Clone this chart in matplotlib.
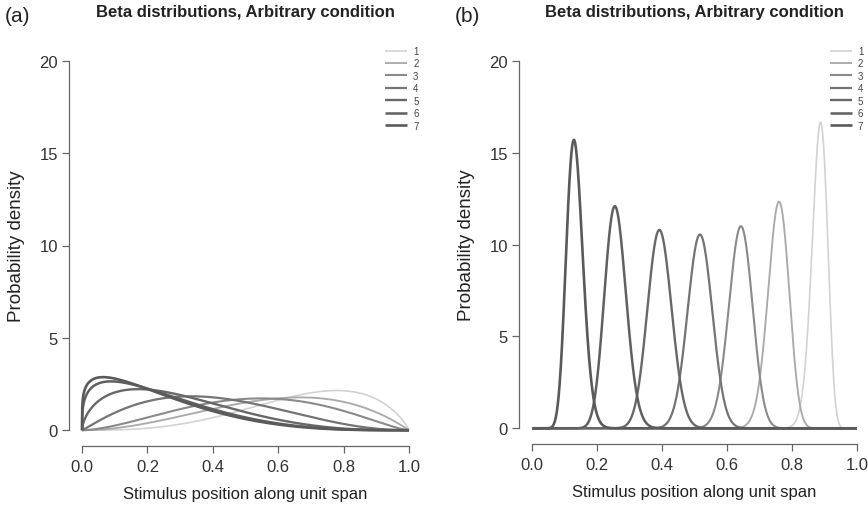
import math
import numpy as np
import matplotlib
matplotlib.use("Agg")
import matplotlib.pyplot as plt

plt.rcParams['font.family'] = ['Liberation Sans', 'DejaVu Sans']

# ---- data: beta parameters ----
LABELS = ['1', '2', '3', '4', '5', '6', '7']
ALPHA_A = [4.0, 3.0, 2.7, 2.1, 1.6, 1.3, 1.22]
BETA_A = [1.85, 2.0, 2.4, 3.2, 3.9, 4.1, 4.2]
ALPHA_B = [154.6, 132.5, 112.2, 90.4, 68.8, 45.1, 23.3]
BETA_B = [20.4, 42.5, 62.8, 84.6, 106.2, 129.9, 151.7]

COLORS = ['#d2d2d2', '#aaaaaa', '#8a8a8a', '#747474', '#686868', '#606060', '#5a5a5a']
WIDTHS = [1.2, 1.35, 1.5, 1.6, 1.7, 1.8, 1.9]

TITLE = 'Beta distributions, Arbitrary condition'
XLABEL = 'Stimulus position along unit span'
YLABEL = 'Probability density'

x = np.linspace(0, 1, 2001)


def beta_pdf(xx, a, b):
    lb = math.lgamma(a) + math.lgamma(b) - math.lgamma(a + b)
    with np.errstate(divide='ignore', invalid='ignore'):
        y = np.exp((a - 1) * np.log(xx) + (b - 1) * np.log1p(-xx) - lb)
    return np.nan_to_num(y, nan=0.0, posinf=0.0)


W, H = 868, 510
fig = plt.figure(figsize=(W / 100, H / 100), dpi=100)


def make_panel(rect_px, alphas, betas, tag, leg_x):
    l, t, r, b = rect_px
    ax = fig.add_axes([l / W, 1 - b / H, (r - l) / W, (b - t) / H])
    for i in range(len(alphas)):
        ax.plot(x, beta_pdf(x, alphas[i], betas[i]), color=COLORS[i],
                lw=WIDTHS[i], label=LABELS[i], solid_capstyle='butt')
    ax.set_xlim(-0.04, 1.04)
    ax.set_ylim(-0.8, 20.8)
    ax.set_xticks([0, 0.2, 0.4, 0.6, 0.8, 1.0])
    ax.set_xticklabels(['0.0', '0.2', '0.4', '0.6', '0.8', '1.0'])
    ax.set_yticks([0, 5, 10, 15, 20])
    for s in ['top', 'right']:
        ax.spines[s].set_visible(False)
    ax.spines['left'].set_bounds(0, 20)
    ax.spines['bottom'].set_bounds(0, 1)
    ax.spines['bottom'].set_position(('outward', 1))
    for s in ['left', 'bottom']:
        ax.spines[s].set_color('#666666')
        ax.spines[s].set_linewidth(0.9)
    ax.tick_params(axis='both', length=5, width=0.9, color='#666666',
                   labelsize=12, labelcolor='#333333', pad=3)
    ax.tick_params(axis='x', pad=4)
    ax.set_xlabel(XLABEL, fontsize=12, color='#222222', labelpad=9)
    ax.set_ylabel(YLABEL, fontsize=13.5, color='#222222', labelpad=10)
    fig.text(((l + r) / 2) / W, 1 - 13 / H, TITLE, fontsize=12, fontweight='bold',
             color='#222222', ha='center', va='center')
    leg = ax.legend(loc='upper left', bbox_to_anchor=(leg_x, 1.0), frameon=False,
                    fontsize=7, handlelength=2.3, handletextpad=0.6,
                    labelspacing=0.25, borderaxespad=0, borderpad=0)
    for txt in leg.get_texts():
        txt.set_color('#444444')
    fig.text((l - 64) / W, 1 - 17 / H, tag, fontsize=15, color='#222222',
             ha='left', va='center')
    return ax


make_panel((69, 47, 422, 446), ALPHA_A, BETA_A, '(a)', 0.895)
make_panel((519, 47, 870, 444), ALPHA_B, BETA_B, '(b)', 0.885)

fig.savefig('out.png', dpi=100)
